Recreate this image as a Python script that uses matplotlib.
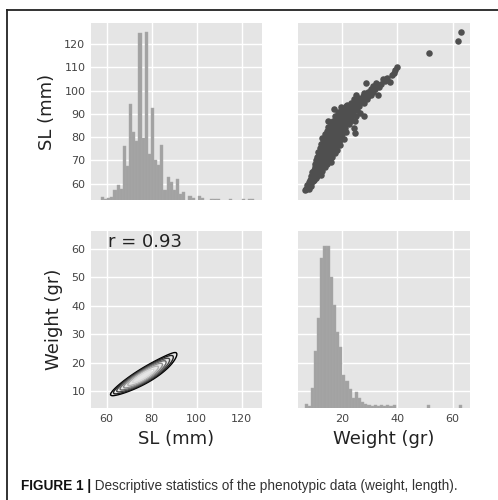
"""
Pair plot of SL (mm) and Weight (gr) with diagonal histograms,
scatter in the upper corner and a KDE in the lower corner.
"""

import numpy as np
import matplotlib.pyplot as plt
import seaborn as sns
from matplotlib.lines import Line2D

# ── data ──────────────────────────────────────────────────────────────────────

# SL histogram: 50 bins, bar tops as read on the SL axis
sl_edges_lo, sl_edges_hi, sl_nbins = 57.4, 126.9, 50
sl_hist_top = [54.3, 53.6, 54.0, 54.3, 57.4, 59.6, 57.6, 76.3, 67.4, 94.2,
               82.3, 78.3, 124.7, 79.7, 125.0, 72.8, 92.3, 70.2, 68.2, 76.6,
               57.4, 63.0, 60.9, 57.4, 62.0, 55.6, 56.5, 0, 54.9, 54.0,
               0, 54.6, 54.0, 0, 0, 53.6, 53.6, 53.6, 0, 0,
               0, 53.6, 0, 0, 0, 53.6, 0, 53.6, 53.6, 0]

# Weight histogram: 50 bins, bar tops as read on the Weight axis
w_edges_lo, w_edges_hi, w_nbins = 6.6, 63.3, 50
w_hist_top = [5.5, 5.0, 11.3, 24.1, 35.7, 56.8, 61.0, 61.0, 50.2, 40.2,
              30.7, 25.7, 15.9, 13.6, 10.8, 7.6, 9.7, 7.6, 6.2, 5.6,
              5.3, 5.0, 5.2, 5.0, 5.4, 5.0, 5.1, 5.0, 5.1, 0,
              0, 0, 0, 0, 0, 0, 0, 0, 0, 5.1,
              0, 0, 0, 0, 0, 0, 0, 0, 0, 5.1]

# individual fish (weight gr, SL mm)
weight = [6.9, 7.0, 7.2, 7.8, 8.1, 8.6, 7.5, 8.3, 9.0,
          8.5, 9.0, 9.5, 10.0, 8.8, 9.6, 10.4, 11.0, 9.2, 10.8, 11.8, 12.5,
          9.8, 10.5, 11.5, 12.3, 13.0, 10.2, 11.2, 12.0, 13.2, 14.0, 14.8,
          10.8, 12.5, 13.8, 15.5, 16.2,
          11.0, 12.0, 13.0, 14.2, 15.0, 16.5, 11.5, 12.8, 13.8, 15.2, 16.2,
          17.5, 12.2, 13.5, 14.5, 16.0, 17.2, 18.3,
          12.5, 13.2, 14.2, 15.3, 16.5, 17.5, 18.5, 19.5, 13.0, 14.0, 15.0,
          16.2, 17.3, 18.5, 19.8, 20.8,
          13.8, 14.8, 16.0, 17.0, 18.2, 19.5, 20.5, 21.5, 15.0, 16.2, 17.5,
          18.8, 20.0, 21.2, 22.5, 24.4, 24.7, 15.0, 17.0, 18.5, 20.0, 21.5,
          23.0, 24.7,
          17.5, 19.0, 20.5, 22.0, 23.5, 25.0, 17.2, 19.9, 18.5, 21.0, 22.5,
          24.0, 25.5, 26.5, 28.1,
          22.0, 23.5, 25.0, 25.7, 27.0, 28.0, 24.5, 26.0, 27.5, 29.0, 29.6,
          30.5, 31.4, 28.0, 33.2,
          28.7, 32.3, 34.8, 37.5, 33.5, 32.0, 35.5, 36.5, 38.8, 39.1, 39.9,
          51.6, 62.1, 62.9,
          7.6, 8.0, 8.9, 9.3, 9.9, 10.6, 10.3, 11.0, 11.8, 12.6, 13.5,
          11.6, 12.9, 14.3, 15.8, 11.9, 13.3, 14.6, 15.8, 16.8, 12.9, 13.9,
          15.0, 16.6, 17.9, 13.6, 14.6, 15.9, 17.0, 18.0, 19.2, 14.3, 15.5,
          16.7, 17.8, 19.0, 20.2, 15.6, 16.7, 18.0, 19.3, 20.8, 16.0, 17.6,
          19.2, 20.7, 22.2, 18.2, 19.8, 21.3, 22.8, 19.3, 20.8, 22.3, 23.8,
          20.0, 23.3, 24.8, 21.5, 26.2, 24.3, 26.4, 27.3, 25.3, 28.5, 29.6,
          30.5, 31.2, 34.0, 36.0, 38.0,
          11.4, 12.2, 13.1, 12.4, 13.6, 14.7, 12.7, 14.0, 15.4, 13.4, 14.3,
          15.6, 14.8, 16.1, 14.5, 15.6, 16.4, 17.6, 16.9, 15.2, 16.4, 13.9,
          14.9, 15.9, 17.0, 18.0, 16.0, 17.3, 12.0, 13.0, 14.0, 15.3, 16.3,
          17.6, 12.3, 13.7, 15.1, 16.8, 18.7, 11.3]
sl = [57.2, 57.7, 57.8, 58.5, 57.9, 60.0, 59.5, 59.0, 60.5,
      61.5, 62.0, 61.0, 63.0, 63.5, 64.0, 64.5, 63.5, 65.0, 65.5, 64.8, 63.8,
      66.0, 67.0, 66.5, 66.0, 65.5, 68.5, 69.0, 68.0, 67.5, 67.0, 68.5,
      70.0, 70.0, 69.5, 70.0, 69.5,
      71.5, 72.0, 71.0, 71.5, 72.5, 71.5, 73.5, 74.0, 73.0, 74.0, 73.5,
      73.0, 75.5, 75.0, 76.0, 75.5, 75.0, 74.5,
      77.0, 78.0, 77.5, 78.0, 77.0, 78.5, 77.5, 76.5, 79.5, 80.0, 79.5,
      80.5, 80.0, 79.5, 80.0, 79.0,
      81.5, 82.5, 82.0, 83.0, 82.0, 82.5, 83.5, 82.0, 84.5, 85.0, 84.5,
      85.5, 85.0, 84.0, 85.5, 84.0, 81.8, 86.9, 87.0, 87.5, 87.0, 87.5,
      87.0, 86.8,
      89.0, 89.5, 89.0, 89.5, 88.5, 89.0, 91.9, 92.8, 91.0, 91.5, 92.0,
      91.0, 91.5, 90.5, 88.9,
      94.0, 94.5, 94.0, 95.0, 95.5, 94.5, 96.5, 97.0, 97.5, 96.5, 97.5,
      98.0, 99.3, 99.0, 98.2,
      103.3, 103.3, 105.0, 103.8, 101.5, 100.5, 104.0, 105.5, 107.4, 108.9,
      110.2, 116.2, 121.1, 125.1,
      58.0, 60.8, 59.2, 62.8, 61.8, 62.5, 66.2, 67.8, 67.2, 68.8, 68.3,
      70.8, 70.5, 70.3, 71.0, 72.8, 72.5, 73.5, 73.0, 74.5, 76.2, 76.8,
      76.5, 76.2, 76.0, 78.8, 78.6, 79.0, 79.2, 78.2, 78.8, 80.8, 81.0,
      81.5, 81.0, 81.2, 81.3, 83.5, 83.8, 83.6, 84.0, 84.5, 86.0, 86.2,
      86.3, 86.0, 86.5, 88.2, 88.0, 88.3, 88.0, 90.3, 90.5, 90.0, 89.8,
      91.6, 93.0, 92.8, 93.2, 93.5, 95.2, 95.9, 96.6, 98.0, 97.8, 99.5,
      100.8, 102.0, 102.8, 104.8, 106.5,
      69.3, 69.8, 69.0, 71.2, 71.8, 72.0, 73.2, 74.2, 75.2, 74.8, 75.4,
      77.3, 76.9, 77.8, 79.3, 80.2, 79.6, 80.6, 82.3, 82.2, 78.5, 72.7,
      74.6, 75.8, 77.6, 80.2, 84.0, 84.8, 70.5, 73.8, 78.2, 73.8, 76.7,
      78.9, 67.6, 76.1, 77.9, 81.0, 83.0, 68.2]

r_value = 0.93

SL_LIM = (53.0, 129.0)
W_LIM = (4.2, 66.3)
SL_TICKS = [60, 80, 100, 120]
SL_YTICKS = [60, 70, 80, 90, 100, 110, 120]
W_XTICKS = [20, 40, 60]
W_YTICKS = [10, 20, 30, 40, 50, 60]

# ── plot ───────────────────────────────────────────────────────────────────────

plt.style.use("ggplot")
plt.rcParams["font.family"] = "DejaVu Sans"

fig = plt.figure(figsize=(4.98, 5.0), dpi=100)
fig.patch.set_facecolor("white")

ax_tl = fig.add_axes([0.1827, 0.600, 0.3434, 0.354])
ax_tr = fig.add_axes([0.5984, 0.600, 0.3454, 0.354])
ax_bl = fig.add_axes([0.1827, 0.184, 0.3434, 0.354])
ax_br = fig.add_axes([0.5984, 0.184, 0.3454, 0.354])

hist_color = "#a2a2a2"
dot_color = "#4f4f4f"

# diagonal histograms
sl_edges = np.linspace(sl_edges_lo, sl_edges_hi, sl_nbins + 1)
ax_tl.bar(sl_edges[:-1], sl_hist_top, width=np.diff(sl_edges), align="edge",
          color=hist_color, edgecolor="#ababab", linewidth=0.3)
w_edges = np.linspace(w_edges_lo, w_edges_hi, w_nbins + 1)
ax_br.bar(w_edges[:-1], w_hist_top, width=np.diff(w_edges), align="edge",
          color=hist_color, edgecolor="#ababab", linewidth=0.3)

# upper corner: scatter
ax_tr.scatter(weight, sl, s=22, color=dot_color, linewidths=0, zorder=3)

# lower corner: kde
sns.kdeplot(x=sl, y=weight, ax=ax_bl, cmap="gray", levels=8, thresh=0.58,
            linewidths=1.0, bw_adjust=1.3)
ax_bl.text(0.10, 0.94, f"r = {r_value:.2f}", transform=ax_bl.transAxes,
           fontsize=13, ha="left", va="center", color="#222222")

for ax in (ax_tl, ax_tr, ax_bl, ax_br):
    ax.set_facecolor("#e5e5e5")
    ax.grid(True, color="white", linewidth=1.0)
    ax.set_axisbelow(True)
    ax.tick_params(length=0, labelsize=8, colors="#444444", pad=4)
    for sp in ax.spines.values():
        sp.set_visible(False)
    ax.set_xlabel("")
    ax.set_ylabel("")

for ax in (ax_tl, ax_bl):
    ax.set_xlim(*SL_LIM)
    ax.set_xticks(SL_TICKS)
for ax in (ax_tr, ax_br):
    ax.set_xlim(*W_LIM)
    ax.set_xticks(W_XTICKS)
for ax in (ax_tl, ax_tr):
    ax.set_ylim(*SL_LIM)
    ax.set_yticks(SL_YTICKS)
    ax.tick_params(labelbottom=False)
for ax in (ax_bl, ax_br):
    ax.set_ylim(*W_LIM)
    ax.set_yticks(W_YTICKS)
for ax in (ax_tr, ax_br):
    ax.tick_params(labelleft=False)

ax_tl.set_ylabel("SL (mm)", fontsize=13, color="#222222", labelpad=6)
ax_bl.set_ylabel("Weight (gr)", fontsize=13, color="#222222", labelpad=6)
ax_bl.set_xlabel("SL (mm)", fontsize=13, color="#222222", labelpad=5)
ax_br.set_xlabel("Weight (gr)", fontsize=13, color="#222222", labelpad=5)

# page frame (top and left rules)
fig.add_artist(Line2D([0.014, 1.0], [0.980, 0.980], color="#222222", linewidth=1.3))
fig.add_artist(Line2D([0.014, 0.014], [0.0, 0.980], color="#222222", linewidth=1.3))

# caption
cap_font = ["Liberation Sans", "DejaVu Sans"]
t1 = fig.text(0.042, 0.028, "FIGURE 1 |", fontsize=9.8, fontweight="bold",
              family=cap_font, color="#111111", va="center", ha="left")
ax_bl.annotate(" Descriptive statistics of the phenotypic data (weight, length).",
               xy=(1.0, 0.5), xycoords=t1, va="center", ha="left",
               fontsize=9.8, family=cap_font, color="#333333",
               annotation_clip=False)

fig.savefig("out.png", dpi=100, facecolor="white")
